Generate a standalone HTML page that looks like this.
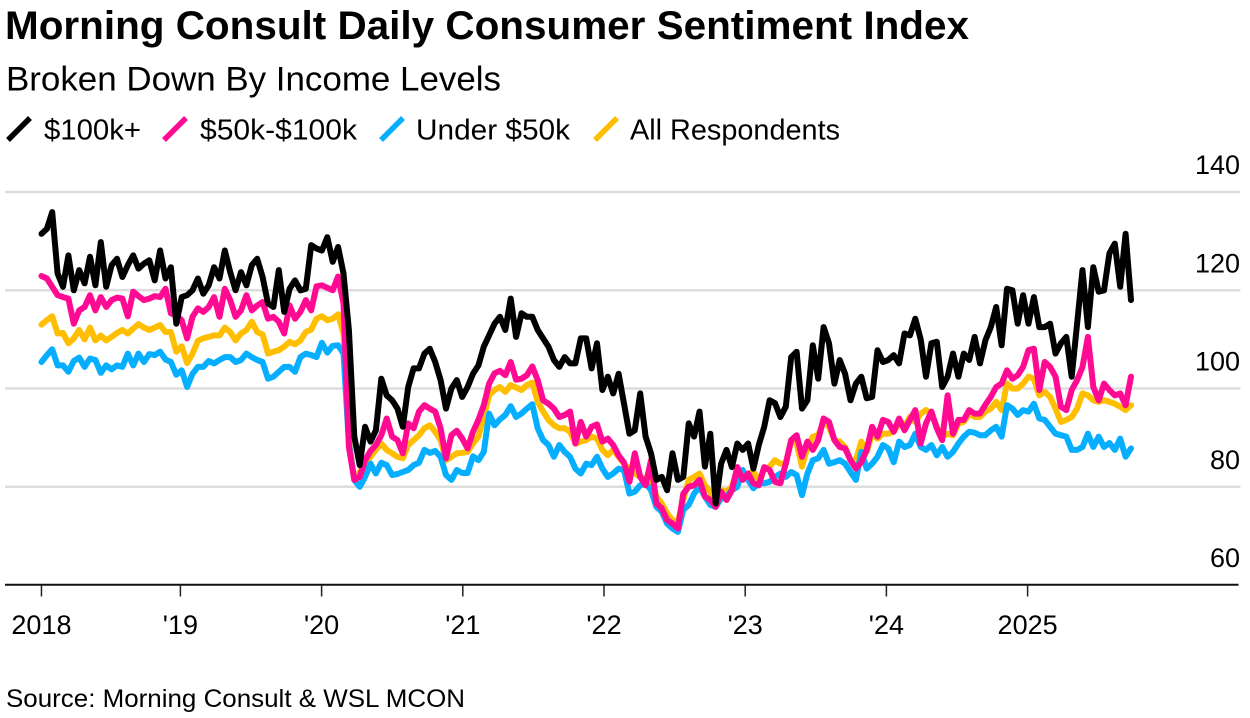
<!DOCTYPE html>
<html lang="en">
<head>
<meta charset="utf-8">
<title>Morning Consult Daily Consumer Sentiment Index</title>
<style>
html,body{margin:0;padding:0;background:#fff;width:1250px;height:718px;overflow:hidden}
svg{display:block}
text{font-family:"Liberation Sans",sans-serif;fill:#000}
</style>
</head>
<body>
<svg id="chart" width="1250" height="718" viewBox="0 0 1250 718" xmlns="http://www.w3.org/2000/svg">
  <text x="5" y="39" font-size="40" font-weight="700" textLength="964" lengthAdjust="spacingAndGlyphs">Morning Consult Daily Consumer Sentiment Index</text>
  <text x="6" y="90.5" font-size="34" textLength="495" lengthAdjust="spacingAndGlyphs">Broken Down By Income Levels</text>
  <g>
    <g>
      <line x1="8" y1="140" x2="30" y2="118" stroke="#000" stroke-width="5.5"/>
      <text x="44" y="139.5" font-size="29" textLength="97" lengthAdjust="spacingAndGlyphs">$100k+</text>
    </g>
    <g>
      <line x1="164" y1="140" x2="186" y2="118" stroke="#ff0a93" stroke-width="5.5"/>
      <text x="200" y="139.5" font-size="29" textLength="157" lengthAdjust="spacingAndGlyphs">$50k-$100k</text>
    </g>
    <g>
      <line x1="381" y1="140" x2="403" y2="118" stroke="#06aeff" stroke-width="5.5"/>
      <text x="416" y="139.5" font-size="29" textLength="154" lengthAdjust="spacingAndGlyphs">Under $50k</text>
    </g>
    <g>
      <line x1="595" y1="140" x2="617" y2="118" stroke="#ffbf00" stroke-width="5.5"/>
      <text x="630" y="139.5" font-size="29" textLength="210" lengthAdjust="spacingAndGlyphs">All Respondents</text>
    </g>
  </g>
  <g id="grid"></g>
  <g id="yLabels"></g>
  <g id="series"></g>
  <g id="xAxis"></g>
  <text x="6" y="707" font-size="25" textLength="459" lengthAdjust="spacingAndGlyphs">Source: Morning Consult &amp; WSL MCON</text>
</svg>
<script>
const firstSampleYear = 2018.016;
const sampleIntervalYears = 0.0382;
const yTicks = [140, 120, 100, 80];
const yTickLabels = ['140', '120', '100', '80', '60'];
const yLabelValues = [140, 120, 100, 80, 60];
const xTickYears = [2018.016, 2019, 2020, 2021, 2022, 2023, 2024, 2025];
const xTickLabels = ['2018', "'19", "'20", "'21", "'22", "'23", "'24", '2025'];

const over100k = [
131.5,132.5,135.9,123.4,120.7,127.1,120,124.1,121.4,126.8,
121,129.8,120.7,125.1,126.4,122.7,125.1,127.1,124.4,125.4,
126.1,122,128.1,122.4,124.7,113.2,118.6,119,120,122.4,
119.3,121,124.7,122.4,128.1,123.7,120,123.7,121,125.1,
126.4,122.7,117.3,116.6,124.1,115.6,120.3,122,120,120.3,
129.2,128.5,128.1,130.8,125.8,128.8,123.4,111.9,90.2,84.4,
92.2,89.2,91.5,102,98.6,97.6,95.9,92.2,100.3,104.1,
104.1,107.1,108.1,105.4,101.7,95.9,100,101.7,98.3,100.3,
103,104.7,108.5,110.8,113.2,114.6,111.9,118.3,110.5,115.3,
114.6,114.6,111.9,110.2,108.5,105.8,104.4,106.4,105.1,105.1,
110.2,110.2,104.1,109.2,99.7,102.4,99,103,96.9,90.8,
91.5,99,90.2,86.8,81.4,82,79.3,86.8,81.4,82,
92.9,90.2,95.3,84.1,90.8,76.6,84.7,87.5,84,88.8,
87.5,88.8,83.7,88.5,92.2,97.6,97,94.2,96.3,106.4,
107.5,95.9,97.6,108.8,102,112.5,109.2,101,105.8,103,
97.6,101,102.4,98,98.3,107.8,105.4,105.8,106.8,105.1,
111.2,110.8,114.2,110,102.4,109.2,109.5,100.3,102.4,107.1,
102.4,107.1,105.8,110.5,105.1,109.8,112.5,116.6,108.8,120.3,
120,113.2,119,113.2,118.6,112.5,112.5,113.2,107.1,109.2,
110.5,102.4,113.2,124.1,112.5,124.7,119.7,120,127.5,129.5,
120.7,131.5,118];

const from50kTo100k = [
122.9,122.4,120.7,119,118.6,118.3,113.2,115.9,116.6,119,
115.9,118.6,116.6,118,118.5,118.3,114.7,119.7,118.8,118,
118.3,118.8,118.6,120.3,115.3,114.9,113.9,110.2,114.6,116.3,
115.6,116.6,118.6,114.6,120.3,118,114.6,115.9,119,115.9,
116.9,117.6,114.2,114.6,113.6,111.2,116.9,114.2,115.6,118,
115.9,120.8,121,120.5,120,122.8,117.3,88.1,81.4,82,
85.4,87.3,88.5,90.5,93.9,90.2,89.5,86.8,92.9,91.9,
95.3,96.6,95.9,95.3,91.9,85.8,90.5,91.4,89.8,87.8,
91.2,93.6,96.6,101,103.1,103.6,102.7,105.4,101.8,102,
102.7,104.5,101.7,97.6,96.9,95.9,94.2,94.6,95.3,88.8,
93.2,90.2,92.2,92.7,89.2,89.8,88.5,86.4,84.9,81,
86.8,82,80.3,85.4,76.6,75.6,73.2,72.5,71.5,78.6,
80,80.3,81.4,78,77.3,75.9,79,77.3,79.3,84,
81.4,82.7,80.7,80.3,84,83.4,81,80.7,84.7,89.5,
90.5,86.1,89.2,87.5,89.5,93.9,93.2,89.5,88.1,87.8,
85.4,83.7,85,87.5,92.2,90.2,93.6,93.2,91.2,93.9,
91.5,93.6,95.6,88.8,92.9,95.3,91.9,89.5,98.6,90.8,
93.6,93.6,95.6,94.9,94.9,96.7,98.3,100.3,101,103.7,
102,102.7,104.4,107.8,108.1,99.7,105.4,104.4,102.4,96.3,
95.6,99.7,101.7,104.4,110.5,100.3,97.6,101,99.7,98.6,
99,96.6,102.4];

const under50k = [
105.4,106.8,108,104.7,104.7,103.4,105.6,106.3,104.4,106.1,
105.8,103.2,104.7,103.9,104.7,104.4,107.1,104.7,107.1,105.4,
107,106.8,107.5,105.9,105.4,102.8,103.7,100.3,103,104.4,
104.4,105.6,105.1,105.8,106.4,106.4,105.4,105.8,107.1,106.4,
105.8,105.4,102,102.4,103.4,104.4,104.4,103.4,106.4,107.1,
106.8,106.4,109.3,107.3,108.7,108.8,107.1,88.8,81.4,80,
82,84.7,82.7,84.9,84.4,82.4,82.6,83,83.4,84.4,
84.9,87.5,86.9,87.3,86.1,82.4,81.4,83.4,82.8,82.8,
86.2,85.4,87.1,94.9,92.5,93.7,94.6,96.4,94.2,94.9,
95.9,96.8,91.9,89.5,88.5,86.1,88.5,87.1,86.1,83.7,
82.7,84.7,84.4,86.1,83.7,82,82.7,83.7,83.4,78.6,
79,80.3,80.7,79.3,75.9,74.9,72.5,71.5,70.8,75.3,
76.3,78.6,80,78,76.3,75.9,77.6,78,79.3,80,
83.4,81.4,79.7,80.7,80.7,81,82,82.7,82,83,
82.4,78.3,82.7,85.4,85.8,87.5,84.7,85,85.4,84.7,
83,81.4,87.1,83.7,84.7,86.1,88.5,87.8,85,89.2,
88.1,88.5,90.8,88.1,87.5,88.5,86.4,88.1,86.1,87.1,
88.8,90.2,91.2,91,90.5,90.5,91.5,92.2,90.2,96.6,
95.9,94.6,95.6,95.3,96.9,93.9,93.6,92.2,90.8,90.5,
90.2,87.5,87.5,88.1,90.8,88.1,90.2,88.1,88.9,87.5,
89.8,86.1,87.8];

const allRespondents = [
113,113.9,114.7,111.2,111.3,109.2,110.2,111.9,110,112.4,
109.8,110.8,109.8,110.5,111.3,111.9,111.2,112.2,113.1,112.4,
111.9,112.4,112.9,111.5,111.5,107.5,108.6,105.2,107.1,109.7,
110.2,110.5,110.8,110.8,112.4,111.5,109.8,111.2,111.9,113.6,
111.5,111,107.1,107.5,107.8,108.5,109.5,109,109.8,111.5,
112,114.2,114.7,113.9,114.2,115.1,111.2,89.5,81.4,83,
84.4,86.1,87.5,88.8,87.5,86.8,86.1,85.8,88.5,89.5,
90.5,91.9,92.5,91.2,89.5,85.4,86.1,86.8,86.9,87.1,
88.8,90.2,94.2,98.6,99.7,100.3,99.3,100.7,100.2,99.7,
100.7,101.2,97.3,95.3,93.6,92.5,91.9,91.9,91.2,88.8,
89.2,89.5,90.2,89.8,87.5,86.4,87.5,86.1,84.7,83.4,
82.7,82,81.7,82,78,76.6,74.6,73.2,72.9,77.3,
81.4,82,82.7,80.3,79,76.6,79.3,79,80,83.4,
82,82.7,83,81.4,83.4,84.1,85.4,84.7,84.7,89.5,
88.8,84.1,88.1,90.2,90.5,93.2,92.2,89.5,89.2,88.1,
85.4,85.4,89.2,87.1,90.8,89.8,90.8,90.8,91.2,92.9,
92.2,94.2,93.2,94.9,95.6,94.9,92.2,90.2,90.8,90.5,
92.9,93.2,94.9,94.2,94.2,95.3,95.9,97.3,95.6,101,
100,100,101,102.4,102,98.6,99.3,98.3,95.9,93.2,
93.6,94.2,95.9,99,98.6,97.6,97.3,97.6,97.3,96.9,
96.3,95.6,96.6];

const NS = 'http://www.w3.org/2000/svg';
function xScale(year) { return 180.4 + (year - 2019) * 141.2; }
function yScale(value) { return 585 - (value - 60) * 4.9125; }
function make(tag, attrs) {
  const el = document.createElementNS(NS, tag);
  for (const k in attrs) el.setAttribute(k, attrs[k]);
  return el;
}

const grid = document.getElementById('grid');
yTicks.forEach(function (v) {
  const line = make('line', { x1: 5, x2: 1240.5, y1: yScale(v), y2: yScale(v), stroke: '#dddddd', 'stroke-width': 2.5 });
  
  
  grid.appendChild(line);
});

const yLabels = document.getElementById('yLabels');
yLabelValues.forEach(function (v, i) {
  const t = make('text', { x: 1240, y: yScale(v) - 18, 'text-anchor': 'end', 'font-size': 27 });
  
  
  t.textContent = yTickLabels[i];
  yLabels.appendChild(t);
});

const seriesGroup = document.getElementById('series');
function drawSeries(name, values, color) {
  const pts = values.map(function (v, i) {
    return xScale(firstSampleYear + i * sampleIntervalYears).toFixed(1) + ',' + yScale(v).toFixed(1);
  }).join(' ');
  const line = make('polyline', { points: pts, fill: 'none', stroke: color, 'stroke-width': 6, 'stroke-linejoin': 'round', 'stroke-linecap': 'round' });
  
  
  seriesGroup.appendChild(line);
}
drawSeries('line-all-respondents', allRespondents, '#ffbf00');
drawSeries('line-under-50k', under50k, '#06aeff');
drawSeries('line-50k-100k', from50kTo100k, '#ff0a93');
drawSeries('line-100k-plus', over100k, '#000000');

const xAxis = document.getElementById('xAxis');
const baseline = make('line', { x1: 5, x2: 1238.5, y1: 584.7, y2: 584.7, stroke: '#111', 'stroke-width': 2 });


xAxis.appendChild(baseline);
xTickYears.forEach(function (yr, i) {
  const x = xScale(yr);
  const tick = make('line', { x1: x, x2: x, y1: 585, y2: 596.5, stroke: '#222', 'stroke-width': 1.5 });
  
  
  xAxis.appendChild(tick);
  const t = make('text', { x: x, y: 634, 'text-anchor': 'middle', 'font-size': 27 });
  
  
  t.textContent = xTickLabels[i];
  xAxis.appendChild(t);
});
</script>
</body>
</html>
